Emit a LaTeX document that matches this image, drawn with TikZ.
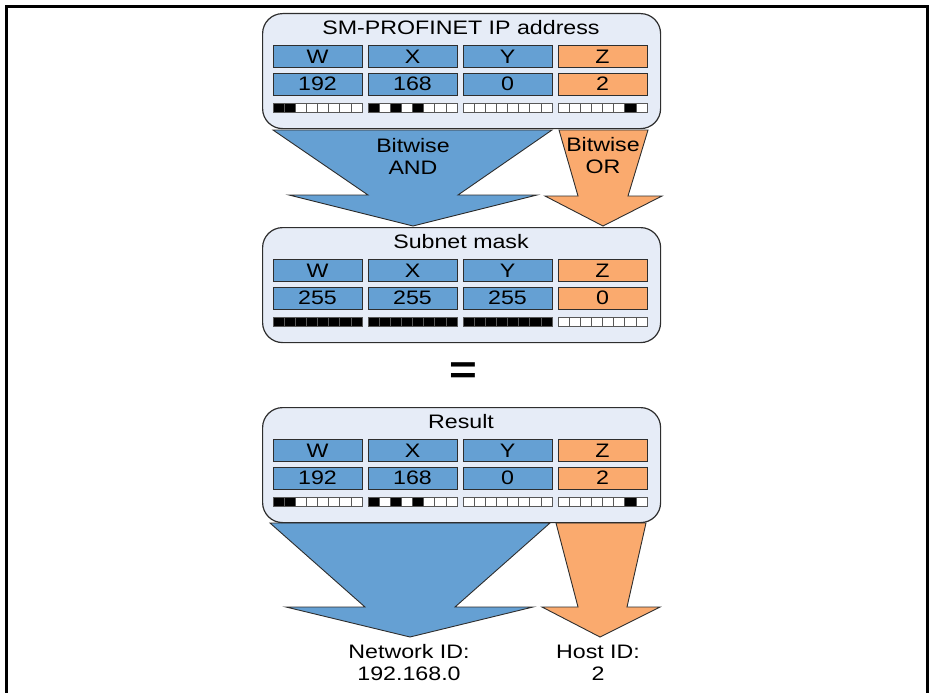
\documentclass[tikz,border=0pt]{standalone}
\usepackage{fontspec}
\setmainfont{Liberation Sans}[FakeStretch=1.19]
\definecolor{boxfill}{HTML}{E6ECF7}
\definecolor{cellblue}{HTML}{65A0D3}
\definecolor{cellorange}{HTML}{FAAA6E}
\definecolor{edge}{HTML}{2E2E2E}
\begin{document}
\begin{tikzpicture}[x=1pt,y=-1pt,
  panel/.style={draw=edge,fill=boxfill,line width=1.2pt,rounded corners=20pt,
    minimum width=398pt,minimum height=115pt,inner sep=0pt},
  cell/.style={draw=edge,line width=0.9pt,inner sep=0pt,minimum width=89pt,
    minimum height=22pt,font=\fontsize{19.5}{22}\selectfont},
  label/.style={font=\fontsize{19.5}{22}\selectfont,align=center,inner sep=0pt},
  bit/.style={draw=edge!80,line width=0.6pt},
  bigarrow/.style={draw=edge,line width=0.9pt,line join=miter}
]
\useasboundingbox (0,0) rectangle (934,693);
% outer frame
\draw[line width=3.5pt] (6.7,705) -- (6.7,6.7) -- (927.3,6.7) -- (927.3,705);

% arrows (behind panels)
\draw[bigarrow,fill=cellblue] (273,130) -- (552,130) -- (458,195) -- (537,195) -- (413,226) -- (289,195) -- (368,195) -- cycle;
\draw[bigarrow,fill=cellorange] (559,130) -- (648,130) -- (628,196) -- (662,196) -- (603,226) -- (545,196) -- (578,196) -- cycle;
\draw[bigarrow,fill=cellblue] (270,523) -- (550,523) -- (455,607) -- (533,607) -- (410,637) -- (286,607) -- (365,607) -- cycle;
\draw[bigarrow,fill=cellorange] (556,523) -- (646,523) -- (627,607) -- (660,607) -- (600,637) -- (542,607) -- (578,607) -- cycle;

% panels
\foreach \pn/\Y/\ttl/\va/\vb/\vc/\vd in {ip/13/{SM-PROFINET IP address}/192/168/0/2,
    mask/227/{Subnet mask}/255/255/255/0, res/407/Result/192/168/0/2} {
  \node[panel,anchor=north west] (\pn box) at (262,\Y) {};
  \node[label] (\pn title) at (461,\Y+15) {\ttl};
  \foreach \c/\l/\v/\col in {0/W/\va/cellblue,1/X/\vb/cellblue,2/Y/\vc/cellblue,3/Z/\vd/cellorange} {
    \node[cell,fill=\col] (\pn\l) at (317.5+95*\c,\Y+43.5) {\l};
    \node[cell,fill=\col] (\pn\l v) at (317.5+95*\c,\Y+71) {\v};
    \foreach \j in {0,...,7} {
      \pgfmathtruncatemacro\pc{100*mod(floor(\v/pow(2,7-\j)),2)}
      \draw[bit,fill=black!\pc] (273+95*\c+11.125*\j,\Y+90.5) rectangle ++(11.125,8.5);
    }
  }
}

% labels
\node[label] (andlbl) at (413,156) {Bitwise\\AND};
\node[label] (orlbl) at (603,156) {Bitwise\\OR};
\node[font=\fontsize{40}{40}\bfseries\selectfont,inner sep=0pt] (eq) at (463,373) {=};
\node[label] (netid) at (409,663) {Network ID:\\192.168.0};
\node[label] (hostid) at (598,663) {Host ID:\\2};
\end{tikzpicture}
\end{document}
